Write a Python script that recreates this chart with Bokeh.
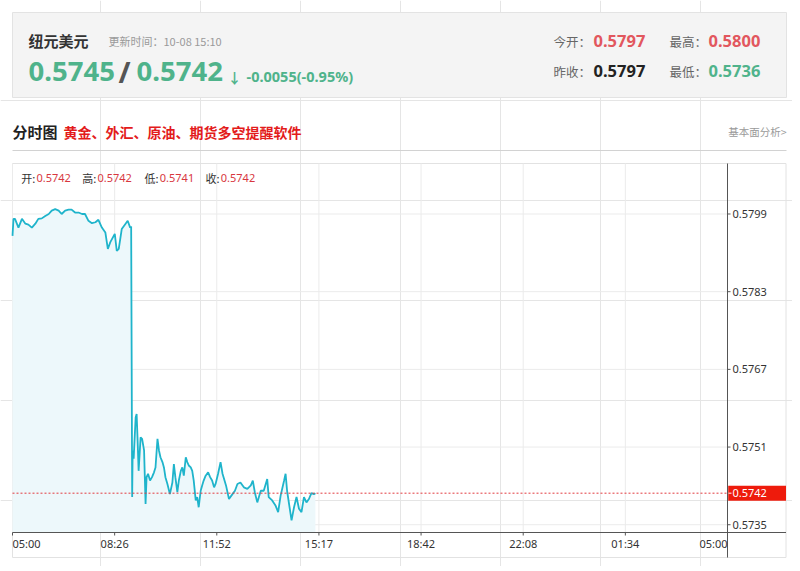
from bokeh.plotting import figure
from bokeh.models import Range1d
from bokeh.core.properties import value
from bokeh.embed import file_html
from bokeh.resources import INLINE

# ---------------- data ----------------
SYMBOL = "纽元美元"
UPDATE_TIME = "10-08 15:10"
BID = 0.5745
ASK = 0.5742
CHANGE = -0.0055
CHANGE_PCT = -0.95
TODAY_OPEN = 0.5797
DAY_HIGH = 0.5800
PREV_CLOSE = 0.5797
DAY_LOW = 0.5736
BAR_NAMES = ["开", "高", "低", "收"]
BAR_VALUES = [0.5742, 0.5742, 0.5741, 0.5742]
PROMO = "黄金、外汇、原油、期货多空提醒软件"
LINK = "基本面分析>"

X_TICK_LABELS = ["05:00", "08:26", "11:52", "15:17", "18:42", "22:08", "01:34", "05:00"]
Y_TICKS = [0.5799, 0.5783, 0.5767, 0.5751, 0.5735]
DAY_MINUTES = 1440

# minutes since 05:00 and price
MINUTES = [0, 2, 5, 12, 19, 26, 32, 39, 46, 52,
           59, 66, 73, 79, 86, 93, 99, 106, 113, 119,
           126, 133, 140, 146, 153, 160, 167, 173, 180, 187,
           192, 197, 206, 210, 214, 220, 227, 232, 237, 239,
           241, 242, 244, 248, 250, 252, 254, 258, 261, 265,
           268, 270, 273, 277, 281, 285, 288, 292, 295, 298,
           302, 305, 308, 312, 317, 322, 325, 328, 332, 335,
           339, 342, 345, 349, 352, 355, 359, 362, 365, 369,
           372, 375, 379, 382, 385, 389, 394, 398, 402, 406,
           409, 414, 419, 423, 430, 436, 443, 448, 453, 459,
           466, 473, 480, 484, 488, 493, 500, 506, 513, 516,
           523, 530, 535, 540, 547, 550, 553, 558, 562, 567,
           572, 577, 582, 587, 592, 597, 602, 607, 610]
PRICES = [0.57945, 0.57980, 0.57980, 0.57962, 0.57980, 0.57970, 0.57968, 0.57962, 0.57970, 0.57980,
          0.57981, 0.57986, 0.57990, 0.57997, 0.58000, 0.57997, 0.57990, 0.57997, 0.57999, 0.57999,
          0.57993, 0.57993, 0.57990, 0.57990, 0.57976, 0.57971, 0.57973, 0.57978, 0.57962, 0.57952,
          0.57918, 0.57932, 0.57949, 0.57914, 0.57918, 0.57959, 0.57969, 0.57976, 0.57962, 0.57964,
          0.57407, 0.57503, 0.57486, 0.57571, 0.57578, 0.57523, 0.57461, 0.57530, 0.57527, 0.57503,
          0.57393, 0.57448, 0.57455, 0.57441, 0.57448, 0.57458, 0.57468, 0.57527, 0.57503, 0.57489,
          0.57479, 0.57468, 0.57448, 0.57434, 0.57413, 0.57437, 0.57475, 0.57448, 0.57417, 0.57441,
          0.57461, 0.57468, 0.57451, 0.57489, 0.57479, 0.57472, 0.57468, 0.57461, 0.57441, 0.57400,
          0.57407, 0.57386, 0.57420, 0.57431, 0.57441, 0.57451, 0.57458, 0.57448, 0.57441, 0.57427,
          0.57434, 0.57455, 0.57479, 0.57455, 0.57431, 0.57403, 0.57413, 0.57420, 0.57434, 0.57437,
          0.57427, 0.57424, 0.57431, 0.57441, 0.57417, 0.57396, 0.57420, 0.57420, 0.57444, 0.57407,
          0.57400, 0.57389, 0.57376, 0.57410, 0.57441, 0.57455, 0.57420, 0.57386, 0.57359, 0.57386,
          0.57407, 0.57383, 0.57376, 0.57407, 0.57396, 0.57403, 0.57415, 0.57413, 0.57415]

# ---------------- style / layout ----------------
CJK = "Noto Sans CJK SC"
NUM = "Noto Sans"
GREEN = "#4fb38b"
RED = "#e2575e"
LINE_C = "#1fb4cb"
FILL_C = "#edf8fb"
GRID_C = "#ebebeb"
AXIS_C = "#555555"
TAG_C = "#ee1b0c"

FIG_W, FIG_H = 792, 566
PLOT_L, PLOT_R, PLOT_T, PLOT_B = 12, 727, 163, 532   # plot area (page pixels)
BOX_R, BOX_B = 785.5, 557                             # chart box edge
Y_LO, Y_HI = 0.57334, 0.58094                         # price range of plot area

PPM = (PLOT_R - PLOT_L) / DAY_MINUTES   # px per minute
PPP = (PLOT_B - PLOT_T) / (Y_HI - Y_LO)  # px per price unit


def t_at(px):
    return (px - PLOT_L) / PPM


def p_at(py):
    return Y_HI - (py - PLOT_T) / PPP


f = figure(width=FIG_W, height=FIG_H, x_range=Range1d(0, FIG_W), y_range=Range1d(FIG_H, 0),
           x_axis_location=None, y_axis_location=None, output_backend="svg",
           toolbar_location=None, min_border=0)
f.outline_line_color = None
f.background_fill_color = "white"
f.border_fill_color = "white"
f.extra_x_ranges = {"t": Range1d(t_at(0), t_at(FIG_W))}
f.extra_y_ranges = {"p": Range1d(p_at(FIG_H), p_at(0))}
TP = dict(x_range_name="t", y_range_name="p")


def put(x, y, s, size, color, font=CJK, style="normal", align="left", **kw):
    f.text(x=x if isinstance(x, list) else [x], y=y if isinstance(y, list) else [y],
           text=s if isinstance(s, list) else [s], text_font=value(font),
           text_font_size=f"{size}px", text_color=color, text_font_style=style,
           text_align=align, text_baseline="middle", **kw)


# ---------------- header ----------------
f.quad(left=12, right=786, top=12, bottom=97, fill_color="#f4f4f4", line_color="#e3e3e3")
put(28, 40, SYMBOL, 15, "#333333", style="bold")
put(108, 40.5, f"更新时间：{UPDATE_TIME}", 11, "#9a9a9a")
put(28, 71, f"{BID:.4f}", 27.5, GREEN, font=NUM, style="bold")
put(118, 71, "/", 29, "#555555", font=NUM, style="bold")
put(136, 71, f"{ASK:.4f}", 27.5, GREEN, font=NUM, style="bold")
put(227, 76, "↓" if CHANGE < 0 else "↑", 14, GREEN, style="bold")
put(246, 75.5, f"{CHANGE:.4f}({CHANGE_PCT:.2f}%)", 14.5, GREEN, font=NUM, style="bold")

put(553, 41, "今开：", 12.5, "#666666")
put(593, 40, f"{TODAY_OPEN:.4f}", 16.5, RED, font=NUM, style="bold")
put(669, 41, "最高：", 12.5, "#666666")
put(708, 40, f"{DAY_HIGH:.4f}", 16.5, RED, font=NUM, style="bold")
put(553, 70.5, "昨收：", 12.5, "#666666")
put(593, 70, f"{PREV_CLOSE:.4f}", 16.5, "#222222", font=NUM, style="bold")
put(669, 70.5, "最低：", 12.5, "#666666")
put(708, 70, f"{DAY_LOW:.4f}", 16.5, GREEN, font=NUM, style="bold")

put(12, 131, "分时图", 15, "#222222", style="bold")
put(63, 131, PROMO, 14, "#e31b1b", style="bold")
put(786, 130.5, LINK, 10.5, "#9a9a9a", align="right")
f.segment(x0=[12], y0=[150], x1=[786], y1=[150], line_color="#d2d2d2", line_width=1)

# ---------------- chart ----------------
f.quad(left=12, right=BOX_R, top=PLOT_T, bottom=BOX_B, fill_alpha=0, line_color="#e2e2e2")

n_x = len(X_TICK_LABELS)
x_ticks = [i * DAY_MINUTES / (n_x - 1) for i in range(n_x)]

# grid
f.segment(x0=x_ticks, y0=[Y_HI] * n_x, x1=x_ticks, y1=[Y_LO] * n_x,
          line_color=GRID_C, line_width=1, **TP)
f.segment(x0=[0] * len(Y_TICKS), y0=Y_TICKS, x1=[DAY_MINUTES] * len(Y_TICKS), y1=Y_TICKS,
          line_color=GRID_C, line_width=1, **TP)

# series
f.varea(x=MINUTES, y1=Y_LO, y2=PRICES, fill_color=FILL_C, **TP)
f.line(MINUTES, PRICES, line_color=LINE_C, line_width=1.8, **TP)

LAST = PRICES[-1]
f.segment(x0=[0], y0=[LAST], x1=[DAY_MINUTES], y1=[LAST], line_color="#e23a3f",
          line_dash="2 2", line_width=1, **TP)

# axes
f.segment(x0=[0], y0=[Y_LO], x1=[t_at(BOX_R)], y1=[Y_LO], line_color=AXIS_C, line_width=1, **TP)
f.segment(x0=[DAY_MINUTES], y0=[Y_HI], x1=[DAY_MINUTES], y1=[p_at(BOX_B)],
          line_color=AXIS_C, line_width=1, **TP)
f.segment(x0=x_ticks, y0=[Y_LO] * n_x, x1=x_ticks, y1=[Y_LO - 3 / PPP] * n_x,
          line_color=AXIS_C, line_width=1, **TP)
f.segment(x0=[DAY_MINUTES] * len(Y_TICKS), y0=Y_TICKS,
          x1=[DAY_MINUTES + 3 / PPM] * len(Y_TICKS), y1=Y_TICKS,
          line_color=AXIS_C, line_width=1, **TP)

put([DAY_MINUTES + 5 / PPM] * len(Y_TICKS), Y_TICKS, [f"{v:.4f}" for v in Y_TICKS],
    11, "#333333", font=NUM, **TP)

lab_y = Y_LO - 10.5 / PPP
put([x_ticks[0]], [lab_y], [X_TICK_LABELS[0]], 11, "#333333", font=NUM, align="left", **TP)
put(x_ticks[1:-1], [lab_y] * (n_x - 2), X_TICK_LABELS[1:-1], 11, "#333333", font=NUM,
    align="center", **TP)
put([x_ticks[-1]], [lab_y], [X_TICK_LABELS[-1]], 11, "#333333", font=NUM, align="right", **TP)

# current price tag
f.quad(left=t_at(PLOT_R + 0.7), right=t_at(BOX_R), top=LAST + 7.5 / PPP, bottom=LAST - 7.5 / PPP,
       fill_color=TAG_C, line_color=None, **TP)
f.segment(x0=[DAY_MINUTES + 1 / PPM], y0=[LAST], x1=[DAY_MINUTES + 4 / PPM], y1=[LAST],
          line_color="white", line_width=1, **TP)
put(DAY_MINUTES + 5 / PPM, LAST, f"{ASK:.4f}", 11, "white", font=NUM, **TP)

# OHLC info line
name_x = [20.7, 81.7, 144, 205]
put(name_x, [177] * 4, [f"{n}:" for n in BAR_NAMES], 11, "#333333")
put([x + 15.3 for x in name_x], [177] * 4, [f"{v:.4f}" for v in BAR_VALUES], 11, "#d8373e",
    font=NUM)

open("out.html", "w").write(file_html(f, INLINE))
